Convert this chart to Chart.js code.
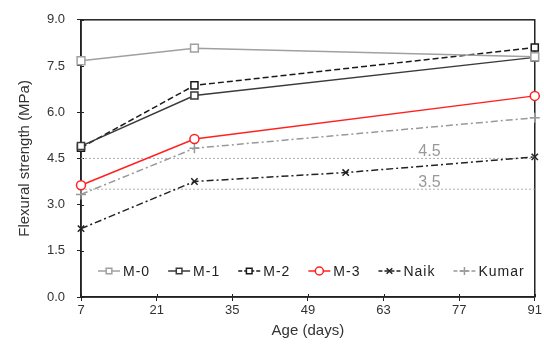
<!DOCTYPE html>
<html>
<head>
<meta charset="UTF-8">
<title>Flexural strength</title>
<script src="https://cdn.jsdelivr.net/npm/chart.js@4.4.0/dist/chart.umd.min.js"></script>
<style>
  html, body { margin: 0; padding: 0; background: #fff; }
</style>
</head>
<body>
<canvas id="myChart" width="544" height="346"></canvas>
<script>
// data
const ages = [7, 28, 91];
const naikAges = [7, 28, 56, 91];
const m0 = [7.67, 8.08, 7.80];
const m1 = [4.90, 6.54, 7.78];
const m2 = [4.85, 6.87, 8.10];
const m3 = [3.63, 5.13, 6.53];
const naik = [2.22, 3.75, 4.04, 4.55];
const kumar = [3.33, 4.83, 5.82];
const limits = [4.5, 3.5];
const limitLabelAt = 71.5;
const xTicks = [7, 21, 35, 49, 63, 77, 91];
const yTicks = [0, 1.5, 3.0, 4.5, 6.0, 7.5, 9.0];

const FONT = '"Liberation Sans", Arial, sans-serif';
const pts = (xs, ys) => xs.map((x, i) => ({ x: x, y: ys[i] }));

function series(label, xs, ys, color, dash, style, radius) {
  return {
    label: label,
    data: pts(xs, ys),
    borderColor: color,
    backgroundColor: '#fff',
    borderWidth: 1.5,
    borderDash: dash,
    pointStyle: style,
    pointRadius: radius,
    pointBorderWidth: 1.5,
    pointBackgroundColor: '#fff',
    pointBorderColor: color,
    tension: 0,
    clip: false
  };
}

const datasets = [
  series('M-0', ages, m0, '#a0a0a0', [], 'rect', 5.5),
  series('M-1', ages, m1, '#3a3a3a', [], 'rect', 5),
  series('M-2', ages, m2, '#1a1a1a', [6, 3], 'rect', 5),
  series('M-3', ages, m3, '#ff2020', [], 'circle', 4.5),
  series('Naik', naikAges, naik, '#222', [7, 3, 2, 3], 'crossRot', 4.5),
  series('Kumar', ages, kumar, '#999', [7, 3, 2, 3], 'cross', 5)
];
limits.forEach(v => {
  datasets.push({
    label: 'limit ' + v,
    isLimit: true,
    value: v,
    data: pts([xTicks[0], xTicks[xTicks.length - 1]], [v, v]),
    borderColor: '#b0b0b0',
    borderWidth: 1,
    borderDash: [2, 2],
    pointRadius: 0
  });
});

// frame, inner ticks, limit labels and the in-plot legend
const extras = {
  id: 'extras',
  beforeDatasetsDraw(chart) {
    const ctx = chart.ctx;
    const ca = chart.chartArea;
    const xs = chart.scales.x, ys = chart.scales.y;
    ctx.save();
    ctx.strokeStyle = '#222';
    ctx.lineWidth = 1.5;
    ctx.strokeRect(ca.left, ca.top, ca.right - ca.left, ca.bottom - ca.top);
    ctx.lineWidth = 1;
    ctx.beginPath();
    xTicks.forEach(v => {
      const px = Math.round(xs.getPixelForValue(v)) + 0.5;
      ctx.moveTo(px, ca.bottom); ctx.lineTo(px, ca.bottom - 3);
    });
    yTicks.forEach(v => {
      const py = Math.round(ys.getPixelForValue(v)) + 0.5;
      ctx.moveTo(ca.left, py); ctx.lineTo(ca.left + 3, py);
    });
    ctx.stroke();
    ctx.restore();
  },
  afterDatasetsDraw(chart) {
    const ctx = chart.ctx;
    const ca = chart.chartArea;
    const xs = chart.scales.x, ys = chart.scales.y;
    ctx.save();
    ctx.fillStyle = '#999';
    ctx.font = '16px ' + FONT;
    ctx.textAlign = 'center';
    ctx.textBaseline = 'bottom';
    limits.forEach(v => {
      ctx.fillText(v.toFixed(1), xs.getPixelForValue(limitLabelAt), ys.getPixelForValue(v) + 1);
    });

    ctx.font = '14px ' + FONT;
    ctx.letterSpacing = '1px';
    ctx.textAlign = 'left';
    ctx.textBaseline = 'middle';
    const ly = ca.bottom - 26;
    let lx = ca.left + 17;
    chart.data.datasets.forEach(ds => {
      if (ds.isLimit) return;
      ctx.save();
      ctx.strokeStyle = ds.borderColor;
      ctx.lineWidth = 1.5;
      ctx.setLineDash(ds.borderDash.length ? [4, 2] : []);
      ctx.beginPath();
      ctx.moveTo(lx, ly); ctx.lineTo(lx + 22, ly);
      ctx.stroke();
      ctx.setLineDash([]);
      ctx.fillStyle = '#fff';
      Chart.helpers.drawPoint(ctx, { pointStyle: ds.pointStyle, radius: 4, borderWidth: 1.5, rotation: 0 }, lx + 11, ly);
      ctx.restore();
      ctx.fillStyle = '#222';
      ctx.fillText(ds.label, lx + 25, ly + 1);
      lx += 25 + ctx.measureText(ds.label).width + 18;
    });
    ctx.restore();
  }
};

const ctx = document.getElementById('myChart').getContext('2d');
const myChart = new Chart(ctx, {
  type: 'line',
  data: { datasets: datasets },
  plugins: [extras],
  options: {
    responsive: false,
    animation: false,
    devicePixelRatio: 1,
    layout: { padding: { top: 15, right: 9, left: 0, bottom: 0 } },
    plugins: { legend: { display: false }, tooltip: { enabled: false } },
    scales: {
      x: {
        type: 'linear',
        min: 7,
        max: 91,
        afterBuildTicks: s => { s.ticks = xTicks.map(v => ({ value: v })); },
        afterFit: s => { s.height = 49; },
        grid: { drawOnChartArea: false, tickLength: 4, color: '#222' },
        border: { color: '#222', width: 1.5 },
        ticks: { color: '#333', font: { size: 13, family: FONT }, padding: 2, maxRotation: 0 },
        title: { display: true, text: 'Age (days)', color: '#333', font: { size: 15, family: FONT }, padding: { top: 0, bottom: 6 } }
      },
      y: {
        min: 0,
        max: 9,
        afterBuildTicks: s => { s.ticks = yTicks.map(v => ({ value: v })); },
        afterFit: s => { s.width = 81; },
        grid: { drawOnChartArea: false, tickLength: 4, color: '#222' },
        border: { color: '#222', width: 1.5 },
        ticks: { color: '#333', font: { size: 13, family: FONT }, padding: 12, callback: v => Number(v).toFixed(1) },
        title: { display: true, text: 'Flexural strength (MPa)', color: '#333', font: { size: 15, family: FONT }, padding: { top: 16, bottom: 0 } }
      }
    }
  }
});
</script>
</body>
</html>
